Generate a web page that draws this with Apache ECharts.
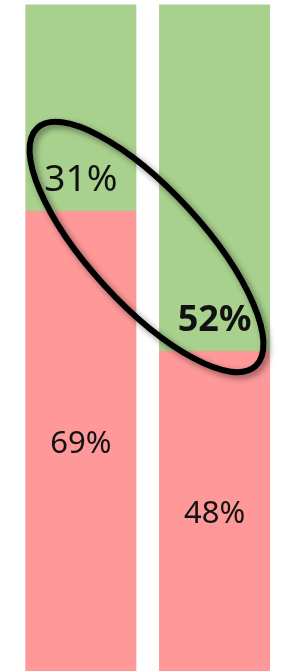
<!DOCTYPE html>
<html>
<head>
<meta charset="utf-8">
<script src="https://cdn.jsdelivr.net/npm/echarts@6/dist/echarts.min.js"></script>
<style>
  html, body { margin: 0; padding: 0; background: #fff; }
  #chart { width: 283px; height: 671px; }
</style>
</head>
<body>
<div id="chart"></div>
<script>
const categories = ['A', 'B'];
const yesValues = [31, 52];
const noValues = [69, 48];

const chart = echarts.init(document.getElementById('chart'), null, {renderer: 'canvas'});

const font = '"Noto Sans", sans-serif';

const option = {
    animation: false,
    grid: {left: 14, right: 1.6, top: 4.5, bottom: -3},
    xAxis: {
        type: 'category',
        data: categories,
        show: false
    },
    yAxis: {
        type: 'value',
        min: 0,
        max: 100,
        show: false
    },
    series: [
        {
            name: 'no',
            type: 'bar',
            stack: 'total',
            barWidth: 111,
            itemStyle: {color: '#ff9999'},
            label: {
                show: true,
                position: 'inside',
                offset: [0, 3],
                formatter: '{c}%',
                color: '#111',
                fontSize: 31,
                fontFamily: font
            },
            data: noValues
        },
        {
            name: 'yes',
            type: 'bar',
            stack: 'total',
            barWidth: 111,
            itemStyle: {color: '#a9d18e'},
            label: {
                show: true,
                position: 'insideBottom',
                distance: 12,
                formatter: '{c}%',
                color: '#111',
                fontFamily: font
            },
            data: yesValues.map((v, i) => ({
                value: v,
                label: i === 1
                    ? {fontSize: 36, lineHeight: 36, fontWeight: 'bold'}
                    : {fontSize: 37, lineHeight: 37, fontWeight: 'normal'}
            }))
        }
    ],
    graphic: [
        {
            // hand-drawn highlight ring
            type: 'ellipse',
            x: 146.5,
            y: 247,
            rotation: -47.5 * Math.PI / 180,
            shape: {cx: 0, cy: 0, rx: 161.5, ry: 57},
            style: {
                fill: 'none',
                stroke: '#000',
                lineWidth: 6,
                shadowBlur: 6,
                shadowOffsetX: 3,
                shadowOffsetY: 3,
                shadowColor: 'rgba(0,0,0,0.45)'
            },
            z: 100
        }
    ]
};

chart.setOption(option);
</script>
</body>
</html>
